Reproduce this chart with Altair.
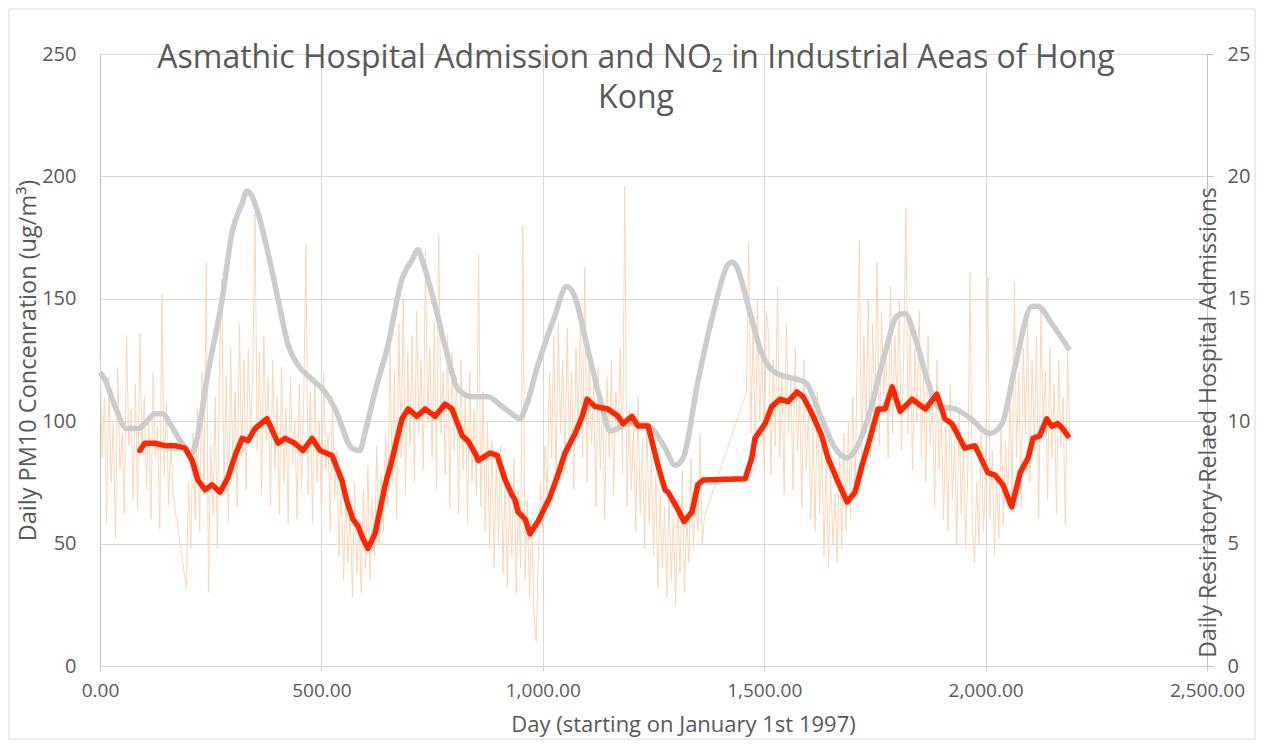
import altair as alt
import pandas as pd

# ---------------- data ----------------
# thin daily series (left axis), sampled every 5 days, in chunks (start day, values)
pm_chunks = [
    (0,    [128, 85, 110, 58, 118, 75, 100, 52, 122, 80]),
    (50,   [95, 62, 135, 90, 105, 68, 115, 64, 136, 88]),
    (100,  [110, 72, 102, 60, 120, 85, 98, 56, 152, 78]),
    (150,  [108, 66, 92, 70]),
    (195,  [32]),
    (200,  [75, 48, 95, 60, 105, 55, 120, 70, 165, 30]),
    (250,  [90, 62, 110, 48, 125, 158, 70, 118, 58, 130]),
    (300,  [80, 112, 65, 140, 85, 125, 72, 130, 95, 120]),
    (350,  [185, 88, 128, 70, 135, 92, 118, 65, 125, 80]),
    (400,  [110, 62, 122, 75, 105, 58, 118, 82, 100, 60]),
    (450,  [115, 72, 108, 172, 70, 112, 58, 118, 75, 100]),
    (500,  [62, 120, 80, 95, 55, 110, 68, 88, 45, 78]),
    (550,  [35, 70, 42, 65, 28, 75, 38, 60, 30, 72]),
    (600,  [40, 82, 35, 68, 45, 90, 50, 78, 55, 95]),
    (650,  [65, 130, 75, 120, 60, 140, 85, 150, 70, 128]),
    (700,  [90, 135, 75, 145, 95, 125, 80, 170, 100, 130]),
    (750,  [85, 140, 72, 176, 95, 120, 78, 135, 65, 128]),
    (800,  [88, 118, 62, 125, 80, 110, 58, 120, 75, 105]),
    (850,  [70, 168, 65, 112, 55, 100, 48, 92, 40, 85]),
    (900,  [50, 90, 38, 78, 32, 70, 45, 85, 30, 72]),
    (950,  [40, 180, 35, 68, 28, 60, 22, 10, 45, 75]),
    (1000, [55, 90, 70, 120, 85, 135, 75, 140, 95, 125]),
    (1050, [80, 138, 90, 120, 72, 130, 98, 145, 85, 163]),
    (1100, [75, 128, 90, 115, 65, 122, 80, 110, 60, 118]),
    (1150, [85, 125, 70, 112, 95, 130, 78, 196, 65, 105]),
    (1200, [72, 98, 55, 110, 62, 92, 48, 100, 58, 85]),
    (1250, [45, 78, 32, 70, 40, 65, 28, 72, 35, 60]),
    (1300, [25, 68, 38, 80, 30, 62, 42, 85, 48, 75]),
    (1350, [55, 95, 50, 61]),
    (1460, [112, 173, 95, 140, 85, 150, 100, 130, 80, 145]),
    (1510, [135, 78, 125, 90, 155, 85, 120, 70, 140, 95]),
    (1560, [118, 72, 130, 88, 110, 65, 125, 80, 105, 60]),
    (1610, [98, 55, 112, 62, 90, 45, 85, 40, 78, 50]),
    (1660, [70, 42, 88, 48, 95, 55, 100, 60, 110, 70]),
    (1710, [125, 174, 80, 135, 95, 150, 85, 140, 100, 165]),
    (1760, [90, 145, 110, 130, 85, 155, 95, 135, 105, 150]),
    (1810, [88, 125, 187, 95, 140, 80, 130, 100, 145, 85]),
    (1860, [120, 75, 135, 90, 110, 65, 125, 80, 105, 60]),
    (1910, [98, 55, 115, 68, 92, 50, 105, 62, 88, 48]),
    (1960, [82, 161, 58, 42, 75, 50, 95, 55, 80, 159]),
    (2010, [60, 88, 45, 78, 52, 100, 58, 92, 65, 110]),
    (2060, [70, 157, 85, 120, 65, 130, 95, 140, 75, 125]),
    (2110, [90, 135, 60, 145, 100, 120, 68, 130, 85, 115]),
    (2160, [62, 125, 90, 110, 58, 128, 95]),
]

# smooth grey series (left axis)
gray_days = [0, 11, 34, 60, 86, 101, 124, 142, 158, 185, 208, 215, 244, 276, 298, 321,
             332, 343, 357, 379, 402, 425, 447, 479, 508, 531, 569, 587, 598, 621, 650,
             682, 705, 718, 729, 757, 783, 809, 840, 876, 908, 930, 948, 960, 989, 1027,
             1054, 1072, 1102, 1134, 1152, 1192, 1224, 1247, 1276, 1299, 1317, 1350,
             1389, 1418, 1428, 1438, 1464, 1494, 1524, 1576, 1592, 1630, 1660, 1687, 1705,
             1734, 1773, 1800, 1818, 1841, 1870, 1893, 1931, 1960, 2010, 2037, 2066,
             2105, 2118, 2149, 2190]
gray_vals = [120, 117, 106, 97, 97, 99, 103, 103, 99, 91, 87, 90, 120, 150, 177, 189,
             194, 192, 185, 169, 150, 131, 123, 117, 112, 105, 89, 88, 95, 112, 131,
             158, 166, 170, 165, 147, 128, 113, 110, 110, 106, 103, 101, 105, 123, 143,
             155, 151, 129, 106, 96, 99, 99, 97, 89, 82, 85, 116,
             147, 164, 165, 163, 147, 128, 120, 117, 116, 101, 89, 85, 88,
             101, 128, 143, 144, 134, 116, 106, 105, 102, 95, 99, 122,
             147, 147, 140, 129]

# red moving-average admissions (right axis)
red_days = [90, 101, 124, 147, 169, 192, 208, 221, 237, 253, 271, 289, 305, 321, 334,
            350, 377, 402, 418, 440, 458, 479, 497, 524, 546, 558, 571, 583, 594, 605,
            621, 644, 659, 682, 696, 716, 734, 757, 779, 795, 818, 831, 847, 854, 881,
            897, 915, 930, 937, 944, 960, 971, 989, 1016, 1034, 1050, 1073, 1089, 1100,
            1118, 1147, 1170, 1181, 1201, 1215, 1238, 1253, 1260, 1276, 1283, 1305, 1319,
            1337, 1350, 1362, 1457, 1472, 1479, 1502, 1517, 1536, 1554, 1574, 1588, 1608,
            1630, 1644, 1667, 1687, 1705, 1721, 1739, 1757, 1773, 1789, 1807, 1834, 1864,
            1890, 1908, 1924, 1953, 1976, 2005, 2021, 2039, 2059, 2078, 2096, 2107, 2122,
            2138, 2149, 2163, 2174, 2186]
red_vals = [8.8, 9.1, 9.1, 9.0, 9.0, 8.9, 8.4, 7.6, 7.2, 7.4, 7.1, 7.7, 8.6, 9.3, 9.2,
            9.7, 10.1, 9.1, 9.3, 9.1, 8.8, 9.3, 8.8, 8.6, 7.6, 6.7, 6.0, 5.7, 5.2, 4.8,
            5.4, 7.4, 8.4, 10.1, 10.5, 10.2, 10.5, 10.2, 10.7, 10.5, 9.4, 9.2, 8.7, 8.4, 8.7,
            8.6, 7.6, 7.0, 6.8, 6.3, 6.0, 5.4, 5.9, 6.9, 7.8, 8.7, 9.5, 10.2, 10.9,
            10.6, 10.5, 10.2, 9.9, 10.2, 9.8, 9.8, 8.7, 8.2, 7.2, 7.1, 6.4, 5.9,
            6.3, 7.4, 7.6, 7.65, 8.5, 9.3, 9.9, 10.6, 10.9, 10.8, 11.2, 11.0, 10.3,
            9.4, 8.5, 7.5, 6.7, 7.1, 8.2, 9.3, 10.5, 10.5, 11.4, 10.4, 10.9, 10.5,
            11.1, 10.1, 9.9, 8.9, 9.0, 7.9, 7.8, 7.4, 6.5, 7.9, 8.5, 9.3, 9.4,
            10.1, 9.8, 9.9, 9.7, 9.4]

x_ticks = [0, 500, 1000, 1500, 2000, 2500]
left_ticks = [0, 50, 100, 150, 200, 250]
right_ticks = [0, 5, 10, 15, 20, 25]

title_lines = ["Asmathic Hospital Admission and NO\u2082 in Industrial Aeas of Hong", "Kong"]
x_title = "Day (starting on January 1st 1997)"
left_title = "Daily PM10 Concenration (ug/m\u00b3)"
right_title = "Daily Resiratory-Relaed Hospital Admissions"

# ---------------- tables ----------------
pm_rows = []
for start, vals in pm_chunks:
    for i, v in enumerate(vals):
        pm_rows.append({"day": start + 5 * i, "val": v})
pm_df = pd.DataFrame(pm_rows)
gray_df = pd.DataFrame({"day": gray_days, "val": gray_vals})
red_df = pd.DataFrame({"day": red_days, "adm": red_vals})

FONT = "Open Sans"
TXT = "#595959"
W, H = 1107, 612

xscale = alt.Scale(domain=[0, 2500], nice=False, zero=False)
yleft = alt.Scale(domain=[0, 250], nice=False)
yright = alt.Scale(domain=[0, 25], nice=False)

x_axis = alt.Axis(values=x_ticks, format=",.2f", title=x_title, grid=True,
                  gridColor="#D9D9D9", domainColor="#D0D0D0", tickColor="#D0D0D0",
                  tickSize=5, labelPadding=10, labelFontSize=19, labelColor=TXT,
                  labelFont=FONT, labelFlush=False, labelOverlap=False,
                  titleFont=FONT, titleFontSize=22, titleColor=TXT,
                  titleFontWeight="normal", titleX=583, titleY=58,
                  titleBaseline="middle", titleAlign="center")

left_axis = alt.Axis(values=left_ticks, format="d", title=left_title, grid=True,
                     gridColor="#D9D9D9", domainColor="#BFBFBF", ticks=False,
                     labelPadding=24, labelFontSize=20, labelColor=TXT, labelFont=FONT,
                     labelFlush=False,
                     titleFont=FONT, titleFontSize=23.5, titleColor=TXT,
                     titleFontWeight="normal", titleAngle=270, titleX=-72, titleY=306,
                     titleBaseline="middle", titleAlign="center")

right_axis = alt.Axis(values=right_ticks, format="d", title=right_title, orient="right",
                      grid=False, domainColor="#BFBFBF", tickColor="#BFBFBF", tickSize=6,
                      labelPadding=14, labelFontSize=20, labelColor=TXT, labelFont=FONT,
                      labelFlush=False,
                      titleFont=FONT, titleFontSize=23, titleColor=TXT,
                      titleFontWeight="normal", titleAngle=270, titleX=1, titleY=368,
                      titleBaseline="middle", titleAlign="center")

pm_line = alt.Chart(pm_df).mark_line(color="#FAD6B8", strokeWidth=1).encode(
    x=alt.X("day:Q", scale=xscale, axis=x_axis),
    y=alt.Y("val:Q", scale=yleft, axis=left_axis),
)

gray_line = alt.Chart(gray_df).mark_line(color="#CCCCCC", strokeWidth=5.5,
                                         interpolate="monotone").encode(
    x=alt.X("day:Q", scale=xscale),
    y=alt.Y("val:Q", scale=yleft),
)

red_line = alt.Chart(red_df).mark_line(color="#FF2600", strokeWidth=5.5,
                                       strokeCap="round", strokeJoin="round").encode(
    x=alt.X("day:Q", scale=xscale),
    y=alt.Y("adm:Q", scale=yright, axis=right_axis),
)

one = pd.DataFrame({"a": [0]})
title_mark = alt.Chart(one).mark_text(
    text=title_lines, font=FONT, fontSize=32, color=TXT, align="center",
    baseline="alphabetic", lineHeight=40
).encode(x=alt.value(536), y=alt.value(14))

border = alt.Chart(one).mark_rect(fill=None, stroke="#D9D9D9", strokeWidth=1).encode(
    x=alt.value(-91), x2=alt.value(1155), y=alt.value(-45), y2=alt.value(685)
)

left_layers = alt.layer(pm_line, gray_line)
chart = alt.layer(left_layers, red_line, title_mark, border).resolve_scale(
    y="independent"
).properties(
    width=W, height=H,
    autosize=alt.AutoSizeParams(type="none"),
    padding={"left": 92, "top": 46, "right": 49, "bottom": 74},
    background="white",
).configure_view(stroke=None)

chart.save("out.html", embed_options={"renderer": "svg", "actions": False})
